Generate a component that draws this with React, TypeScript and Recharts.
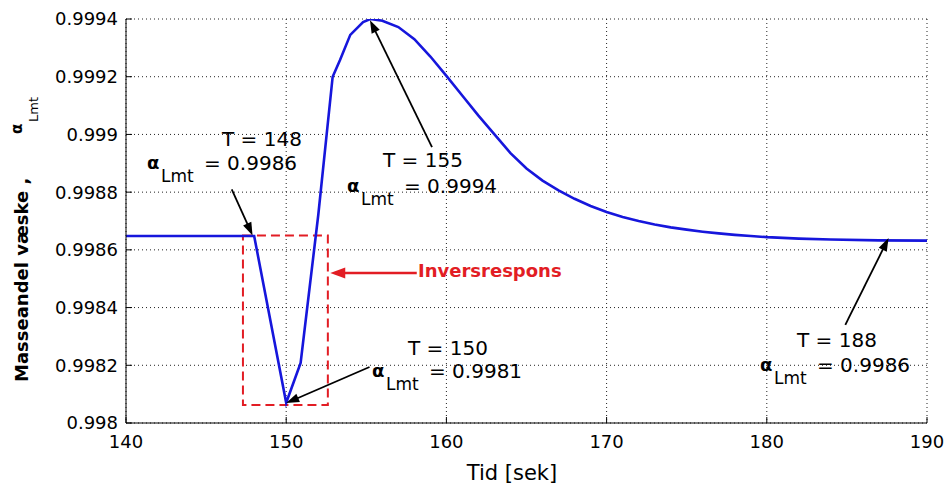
import React from 'react';
import { LineChart, Line, XAxis, YAxis, CartesianGrid, ReferenceArea, ReferenceLine } from 'recharts';

// tid [sek] og massefraksjon væske (alpha_Lmt), lest av figuren
const tid = [
    140, 148, 150, 150.9, 152, 152.9, 153.36, 154, 154.8, 155.25, 156, 157, 158, 159, 160, 161, 162, 163,
    164, 165, 166, 167, 168, 169, 170, 171, 172, 173, 174, 175, 176, 177, 178, 179, 180, 182, 184, 187, 190,
];
const alphaLmt = [
    0.998648, 0.998648, 0.99807, 0.998208, 0.99872, 0.9992, 0.999258, 0.999345, 0.999389, 0.9994, 0.999394, 0.999372,
    0.99933, 0.99927, 0.999203, 0.999134, 0.999065, 0.999, 0.998935, 0.998882, 0.99884, 0.998806, 0.998777, 0.998752,
    0.998731, 0.998714, 0.9987, 0.998688, 0.998678, 0.99867, 0.998663, 0.998657, 0.998652, 0.998648, 0.998644,
    0.998639, 0.998636, 0.998633, 0.998632,
];

const xTicks = [140, 150, 160, 170, 180, 190];
const yTicks = [0.998, 0.9982, 0.9984, 0.9986, 0.9988, 0.999, 0.9992, 0.9994];
const yTickLabels = ['0.998', '0.9982', '0.9984', '0.9986', '0.9988', '0.999', '0.9992', '0.9994'];

// inversrespons-boks
const boxTid = [147.3, 152.6];
const boxAlpha = [0.998062, 0.99865];

// piler: [fra, til] i (tid, alpha)
const arrow148 = [[146.6, 0.99881], [147.9, 0.99865]];
const arrow155 = [[159.1, 0.998956], [155.23, 0.999396]];
const arrow150 = [[155.2, 0.998194], [150.0, 0.998069]];
const arrow188 = [[184.9, 0.99834], [187.6, 0.998641]];
const arrowInvers = [[158.15, 0.99852], [152.75, 0.99852]];

const data = tid.map((t, i) => ({ t, a: alphaLmt[i] }));

const font = '"DejaVu Sans", sans-serif';

const arrowShape = (color: string, width: number, headLen: number, headW: number) => (p: any) => {
    const { x1, y1, x2, y2 } = p;
    const dx = x2 - x1;
    const dy = y2 - y1;
    const len = Math.hypot(dx, dy) || 1;
    const ux = dx / len;
    const uy = dy / len;
    const bx = x2 - ux * headLen;
    const by = y2 - uy * headLen;
    const pts = `${x2},${y2} ${bx - uy * headW},${by + ux * headW} ${bx + uy * headW},${by - ux * headW}`;
    return (
        <g>
            <line x1={x1} y1={y1} x2={bx + ux * 2} y2={by + uy * 2} stroke={color} strokeWidth={width} />
            <polygon points={pts} fill={color} />
        </g>
    );
};

const seg = (s: number[][]) => [{ x: s[0][0], y: s[0][1] }, { x: s[1][0], y: s[1][1] }];

const Annot = ({ tx, ty, t, ax, ay, v }: { tx: number; ty: number; t: string; ax: number; ay: number; v: string }) => (
    <g fontFamily={font} fill="#000">
        <text x={tx} y={ty} fontSize={20}>{t}</text>
        <text x={ax} y={ay} fontSize={18} fontWeight="bold">α</text>
        <text x={ax + 14} y={ay + 13} fontSize={17}>Lmt</text>
        <text x={ax + 57} y={ay + 1} fontSize={20}>{v}</text>
    </g>
);

export default function App() {
    const yFmt = (v: number) => {
        const i = yTicks.findIndex(t => Math.abs(t - v) < 1e-9);
        return i >= 0 ? yTickLabels[i] : String(v);
    };

    return (
        <div style={{ position: 'absolute', left: 0, top: 0, width: 950, height: 492, background: '#fff' }}>
            <LineChart width={950} height={492} data={data} margin={{ top: 19, right: 23, left: 0, bottom: 39 }}>
                <CartesianGrid stroke="#222" strokeDasharray="1 3" />
                <XAxis
                    dataKey="t"
                    type="number"
                    domain={[140, 190]}
                    ticks={xTicks}
                    interval={0}
                    height={30}
                    tickSize={-6}
                    tickMargin={18}
                    allowDataOverflow
                    axisLine={{ stroke: '#000' }}
                    tickLine={{ stroke: '#000' }}
                    tick={{ fill: '#000', fontSize: 18, fontFamily: font }}
                />
                <XAxis
                    xAxisId="top"
                    orientation="top"
                    type="number"
                    domain={[140, 190]}
                    ticks={xTicks}
                    interval={0}
                    height={0}
                    mirror
                    tick={false}
                    tickSize={6}
                    axisLine={{ stroke: '#000' }}
                    tickLine={{ stroke: '#000' }}
                />
                <YAxis
                    type="number"
                    domain={[0.998, 0.9994]}
                    ticks={yTicks}
                    interval={0}
                    width={126}
                    tickSize={-6}
                    tickMargin={14}
                    allowDataOverflow
                    tickFormatter={yFmt}
                    axisLine={{ stroke: '#000' }}
                    tickLine={{ stroke: '#000' }}
                    tick={{ fill: '#000', fontSize: 18, fontFamily: font }}
                />
                <YAxis
                    yAxisId="right"
                    orientation="right"
                    type="number"
                    domain={[0.998, 0.9994]}
                    ticks={yTicks}
                    interval={0}
                    width={0}
                    mirror
                    tick={false}
                    tickSize={6}
                    axisLine={{ stroke: '#000' }}
                    tickLine={{ stroke: '#000' }}
                />
                <Line type="linear" dataKey="a" stroke="#1616dc" strokeWidth={2.6} dot={false} isAnimationActive={false} />
                <ReferenceArea
                    x1={boxTid[0]}
                    x2={boxTid[1]}
                    y1={boxAlpha[0]}
                    y2={boxAlpha[1]}
                    fill="none"
                    fillOpacity={0}
                    stroke="#e21d24"
                    strokeWidth={2}
                    strokeDasharray="9 5"
                />
                <ReferenceLine segment={seg(arrow148)} shape={arrowShape('#000', 1.8, 13, 4.5)} />
                <ReferenceLine segment={seg(arrow155)} shape={arrowShape('#000', 1.8, 13, 4.5)} />
                <ReferenceLine segment={seg(arrow150)} shape={arrowShape('#000', 1.8, 13, 4.5)} />
                <ReferenceLine segment={seg(arrow188)} shape={arrowShape('#000', 1.8, 13, 4.5)} />
                <ReferenceLine segment={seg(arrowInvers)} shape={arrowShape('#e21d24', 2.6, 15, 5.5)} />

                <Annot tx={222} ty={146} t="T = 148" ax={147} ay={169} v="= 0.9986" />
                <Annot tx={383} ty={167} t="T = 155" ax={347} ay={192} v="= 0.9994" />
                <Annot tx={408} ty={355} t="T = 150" ax={372} ay={377} v="= 0.9981" />
                <Annot tx={797} ty={347} t="T = 188" ax={760} ay={371} v="= 0.9986" />

                <text x={418} y={277} fontFamily={font} fontSize={18} fontWeight="bold" fill="#e21d24">Inversrespons</text>

                <text x={512} y={480} textAnchor="middle" fontFamily={font} fontSize={21} fill="#000">Tid [sek]</text>
                <text transform="translate(28,382) rotate(-90)" fontFamily={font} fontSize={18} fontWeight="bold" fill="#000">Masseandel væske ,</text>
                <text transform="translate(22,134) rotate(-90)" fontFamily={font} fontSize={15} fontWeight="bold" fill="#000">α</text>
                <text transform="translate(38,122) rotate(-90)" fontFamily={font} fontSize={13} fill="#000">Lmt</text>
            </LineChart>
        </div>
    );
}
